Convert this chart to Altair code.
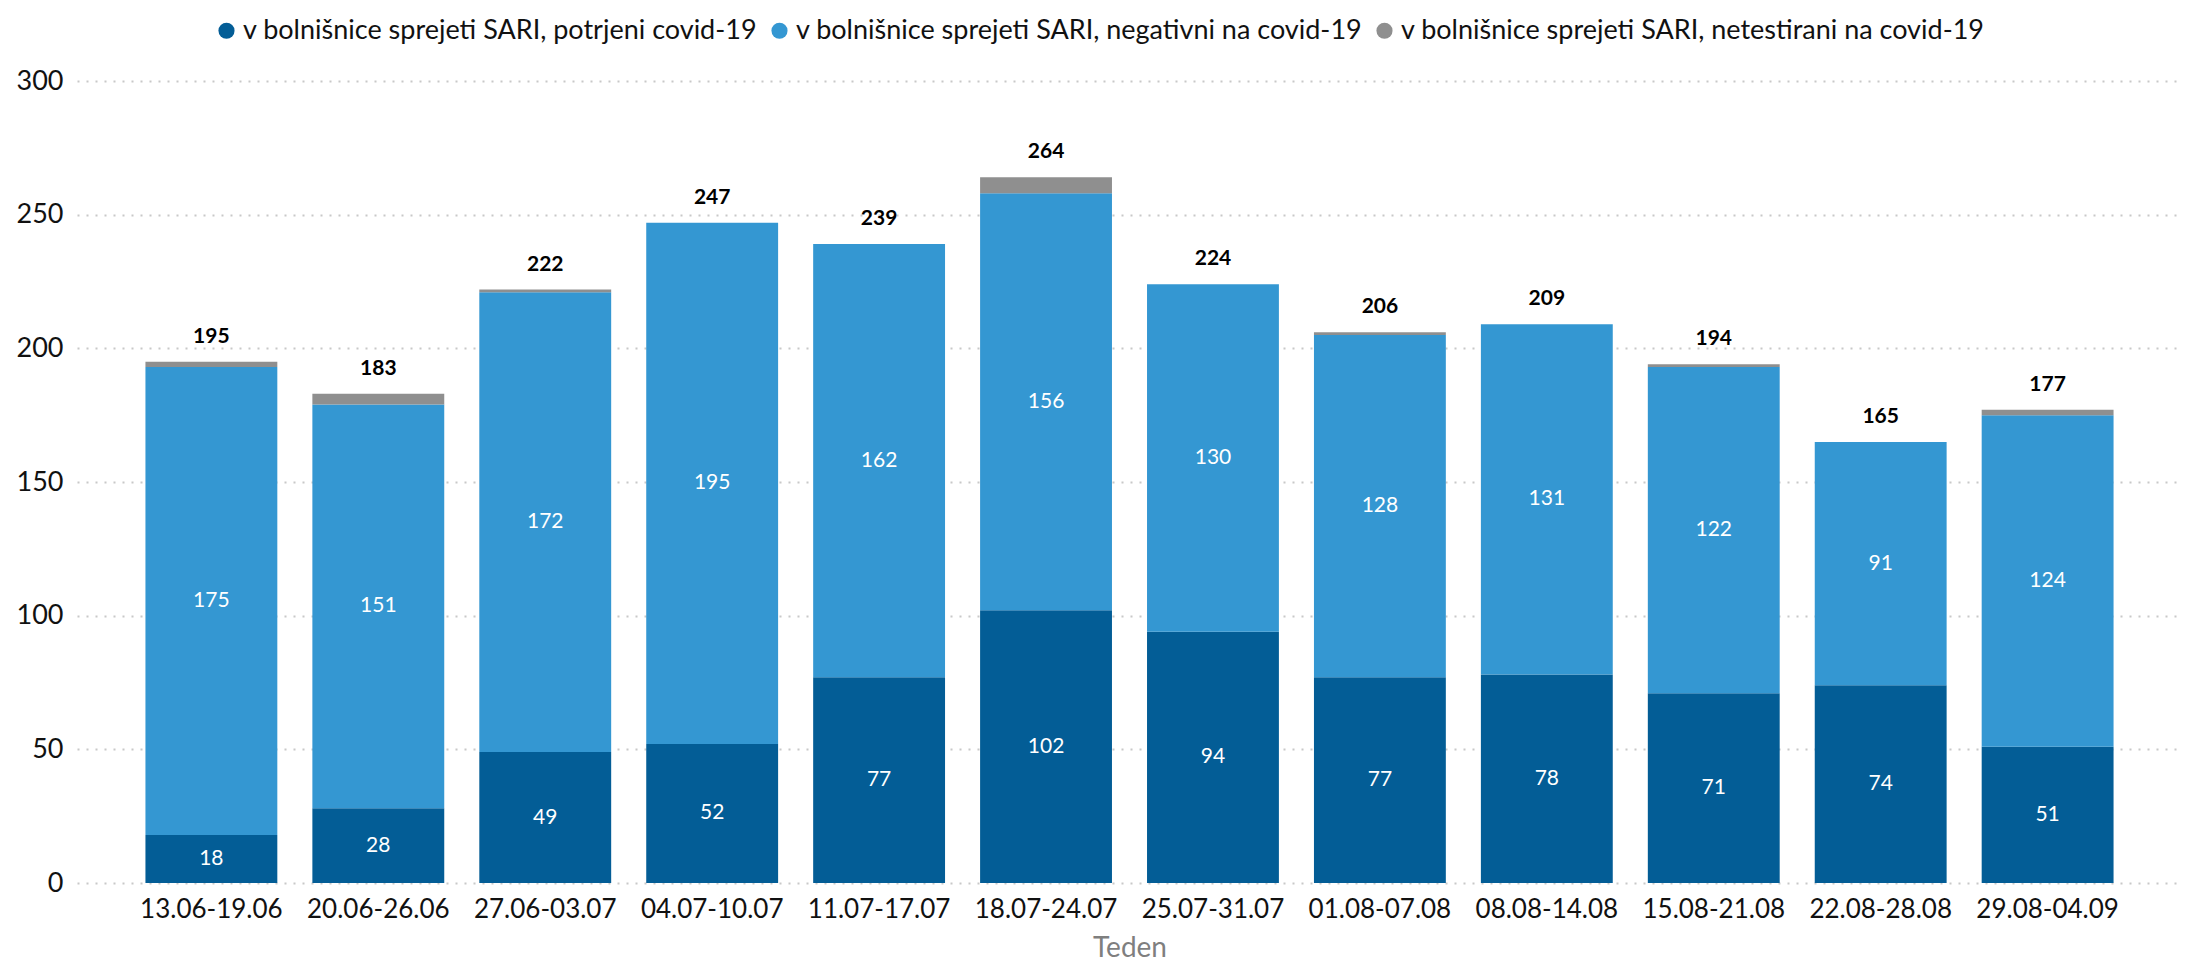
import altair as alt
import pandas as pd

weeks = ["13.06-19.06", "20.06-26.06", "27.06-03.07", "04.07-10.07", "11.07-17.07",
         "18.07-24.07", "25.07-31.07", "01.08-07.08", "08.08-14.08", "15.08-21.08",
         "22.08-28.08", "29.08-04.09"]
series = ["v bolnišnice sprejeti SARI, potrjeni covid-19",
          "v bolnišnice sprejeti SARI, negativni na covid-19",
          "v bolnišnice sprejeti SARI, netestirani na covid-19"]
potrjeni = [18, 28, 49, 52, 77, 102, 94, 77, 78, 71, 74, 51]
negativni = [175, 151, 172, 195, 162, 156, 130, 128, 131, 122, 91, 124]
netestirani = [2, 4, 1, 0, 0, 6, 0, 1, 0, 1, 0, 2]
totals = [195, 183, 222, 247, 239, 264, 224, 206, 209, 194, 165, 177]
colors = ["#035d96", "#3497d2", "#8f8f8f"]

rows = []
for i, w in enumerate(weeks):
    for k, vals in enumerate([potrjeni, negativni, netestirani]):
        rows.append({"week": w, "series": series[k], "ord": k, "value": vals[i]})
df = pd.DataFrame(rows)
tot_df = pd.DataFrame({"week": weeks, "total": totals})

FONT = "Lato"

xenc = alt.X("week:N", sort=weeks, title="Teden",
             scale=alt.Scale(paddingInner=0.21, paddingOuter=0.41),
             axis=alt.Axis(labelFontSize=26, labelColor="#111111", labelPadding=13,
                           ticks=False, domain=False, labelAngle=0,
                           titleFontSize=28, titleColor="#7f7f7f", titleFontWeight="normal",
                           titlePadding=12))

base = alt.Chart(df)

bars = base.mark_bar().encode(
    x=xenc,
    y=alt.Y("value:Q", stack="zero", title=None,
            scale=alt.Scale(domain=[0, 300], nice=False),
            axis=alt.Axis(values=[0, 50, 100, 150, 200, 250, 300], labelFontSize=27,
                          labelColor="#111111", labelPadding=14, ticks=False, domain=False,
                          grid=True, gridColor="#c8c8c8", gridDash=[2, 7], gridWidth=2)),
    color=alt.Color("series:N", scale=alt.Scale(domain=series, range=colors),
                    legend=alt.Legend(title=None, orient="none", direction="horizontal",
                                      legendX=136, legendY=-64, symbolType="circle",
                                      symbolSize=260, labelFontSize=27, labelColor="#111111",
                                      columnPadding=8, labelOffset=3, labelLimit=900,
                                      symbolStrokeWidth=0)),
    order=alt.Order("ord:Q"),
)

inner = base.transform_stack(
    stack="value", groupby=["week"], as_=["y0", "y1"], sort=[alt.SortField("ord")]
).transform_calculate(
    mid="(datum.y0 + datum.y1) / 2"
).transform_filter(
    "datum.ord < 2"
).mark_text(color="white", fontSize=21, baseline="middle").encode(
    x=alt.X("week:N", sort=weeks),
    y=alt.Y("mid:Q"),
    text=alt.Text("value:Q"),
)

top = alt.Chart(tot_df).mark_text(color="black", fontSize=21, fontWeight="bold",
                                   baseline="middle", dy=-25).encode(
    x=alt.X("week:N", sort=weeks),
    y=alt.Y("total:Q"),
    text=alt.Text("total:Q"),
)

chart = alt.layer(bars, inner, top).properties(
    width=2105, height=802,
    autosize=alt.AutoSizeParams(type="none"),
    padding={"left": 69, "top": 73, "right": 10, "bottom": 88},
).configure(font=FONT).configure_view(stroke=None, strokeWidth=0)

chart.save("out.html", embed_options={"renderer": "svg", "actions": False})
